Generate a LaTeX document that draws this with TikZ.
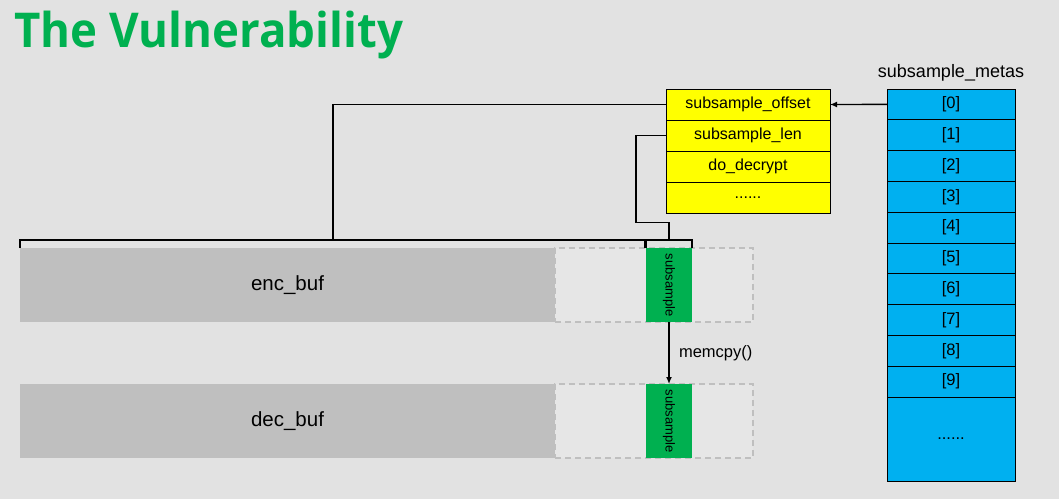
\documentclass[tikz,border=0pt]{standalone}
\usepackage{fontspec}
\setmainfont{Liberation Sans}
\newfontfamily\titlefont{Open Sans}
\usetikzlibrary{positioning, arrows.meta}
\definecolor{bgcolor}{RGB}{226,226,226}
\definecolor{titlegreen}{RGB}{0,176,80}
\definecolor{fieldcolor}{RGB}{255,255,0}
\definecolor{metacolor}{RGB}{0,176,240}
\definecolor{bufcolor}{RGB}{191,191,191}
\definecolor{sparecolor}{RGB}{230,230,230}

\begin{document}
\begin{tikzpicture}[
    x=1pt, y=-1pt,
    field/.style={rectangle, draw, fill=fieldcolor, line width=1pt, outer sep=0pt, inner sep=0pt, minimum width=164pt, minimum height=31pt, font=\fontsize{16}{19}\selectfont},
    meta/.style={rectangle, draw, fill=metacolor, line width=1pt, outer sep=0pt, inner sep=0pt, minimum width=128pt, minimum height=30.8pt, font=\fontsize{16.5}{19}\selectfont},
    buf/.style={rectangle, fill=bufcolor, inner sep=0pt, outer sep=0pt, minimum width=535pt, minimum height=74pt, font=\fontsize{20.5}{24}\selectfont},
    spare/.style={rectangle, draw=bufcolor, fill=sparecolor, dash pattern=on 6pt off 4pt, line width=1.8pt, inner sep=0pt, outer sep=0pt, minimum width=198pt, minimum height=74pt},
    chunk/.style={rectangle, fill=titlegreen, inner sep=0pt, outer sep=0pt, minimum width=46pt, minimum height=74pt, font=\fontsize{13}{15}\selectfont},
    link/.style={line width=1.6pt},
    arrow/.style={-{Latex[length=7pt, width=6pt]}, line width=1.4pt},
    node distance=0pt
]
    \useasboundingbox[fill=bgcolor] (0,0) rectangle (1059,499);

    % Title
    \node[anchor=base west, inner sep=0pt, text=titlegreen, font=\titlefont\bfseries\fontsize{48}{56}\selectfont] (title) at (14,47) {\scalebox{0.95}[1]{The Vulnerability}};

    % Subsample fields
    \node[field] (offset) at (748,104.5) {subsample\_offset};
    \node[field, below=of offset] (len) {subsample\_len};
    \node[field, below=of len] (decrypt) {do\_decrypt};
    \node[field, below=of decrypt] (more) {......};

    % subsample_metas array
    \node[meta] (m0) at (951,104.4) {[0]};
    \node[meta, below=of m0] (m1) {[1]};
    \node[meta, below=of m1] (m2) {[2]};
    \node[meta, below=of m2] (m3) {[3]};
    \node[meta, below=of m3] (m4) {[4]};
    \node[meta, below=of m4] (m5) {[5]};
    \node[meta, below=of m5] (m6) {[6]};
    \node[meta, below=of m6] (m7) {[7]};
    \node[meta, below=of m7] (m8) {[8]};
    \node[meta, below=of m8] (m9) {[9]};
    \node[meta, below=of m9, minimum height=84pt] (mrest) {......};
    \node[above=4pt of m0, font=\fontsize{18}{21}\selectfont] (metas) {subsample\_metas};

    % Buffers
    \node[spare] (encspare) at (654,285) {};
    \node[buf] (encbuf) at (287.5,285) {enc\_buf};
    \node[chunk] (encsub) at (669,285) {\rotatebox{-90}{subsample}};

    \node[spare] (decspare) at (654,421) {};
    \node[buf] (decbuf) at (287.5,421) {dec\_buf};
    \node[chunk] (decsub) at (669,421) {\rotatebox{-90}{subsample}};

    % Connectors
    \coordinate (offtap) at (333,239);
    \coordinate (lentap) at (669,239);
    \draw[arrow] (m0.west) -- (offset.east);
    \draw[link] (encbuf.north west) -- ++(0,-8) -| ([xshift=-1pt]encsub.north west);
    \draw[link] (encsub.north west) -- ++(0,-8) -| (encsub.north east);
    \draw[link] (offset.west) -| (offtap);
    \draw[link] (len.west) -- ++(-30,0) -- ++(0,87) -| (lentap);
    \draw[arrow] (encsub.south) -- node[right=6pt, font=\fontsize{16.5}{19}\selectfont] (memcpy) {memcpy()} (decsub.north);

\end{tikzpicture}
\end{document}
